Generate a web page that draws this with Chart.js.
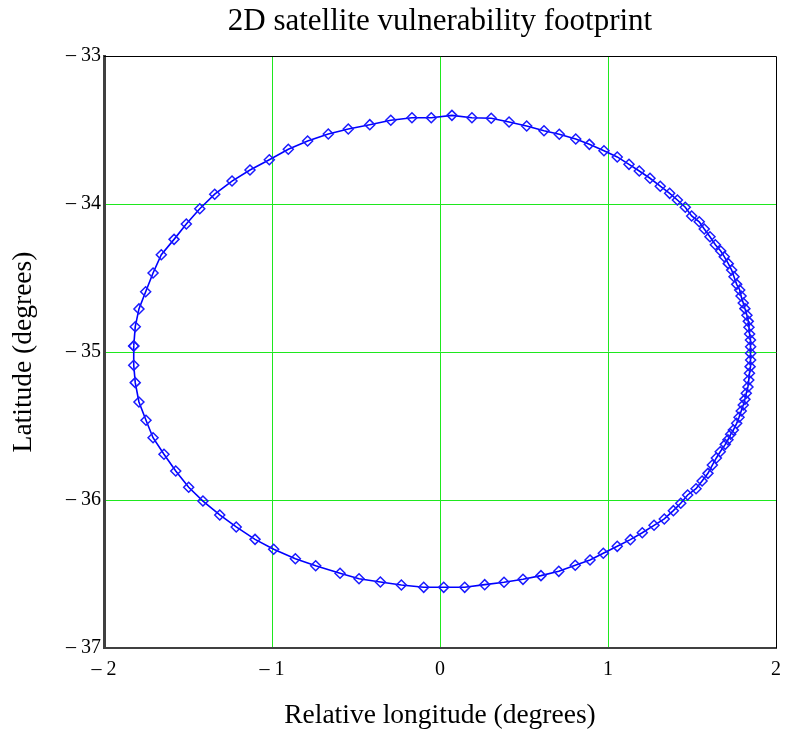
<!DOCTYPE html>
<html lang="en">
<head>
<meta charset="utf-8">
<title>2D satellite vulnerability footprint</title>
<script src="https://cdn.jsdelivr.net/npm/chart.js@4.4.1/dist/chart.umd.min.js"></script>
<style>
  html, body { margin: 0; padding: 0; background: #fff; }
  #wrap { width: 785px; height: 732px; }
</style>
</head>
<body>
<div id="wrap"><canvas id="foot"></canvas></div>
<script>
// footprint contour (clockwise from the left edge)
var lonDeg = [
  -1.823, -1.814, -1.792, -1.752, -1.708, -1.659, -1.583, -1.510, -1.430, -1.341,
  -1.238, -1.131, -1.016, -0.903, -0.788, -0.665, -0.546, -0.418, -0.293, -0.167,
  -0.052, 0.071, 0.190, 0.305, 0.411, 0.516, 0.619, 0.710, 0.808, 0.889,
  0.976, 1.055, 1.125, 1.186, 1.250, 1.311, 1.367, 1.413, 1.460, 1.498,
  1.543, 1.573, 1.607, 1.639, 1.671, 1.692, 1.716, 1.736, 1.750, 1.766,
  1.784, 1.792, 1.805, 1.815, 1.827, 1.835, 1.839, 1.843, 1.848, 1.849,
  1.849, 1.849, 1.846, 1.842, 1.838, 1.833, 1.823, 1.815, 1.805, 1.793,
  1.780, 1.766, 1.746, 1.730, 1.714, 1.698, 1.668, 1.645, 1.621, 1.595,
  1.560, 1.524, 1.474, 1.433, 1.389, 1.335, 1.274, 1.204, 1.133, 1.055,
  0.972, 0.893, 0.805, 0.707, 0.601, 0.494, 0.381, 0.266, 0.147, 0.022,
  -0.097, -0.230, -0.355, -0.482, -0.595, -0.740, -0.861, -0.990, -1.101, -1.213,
  -1.311, -1.411, -1.496, -1.573, -1.643, -1.708, -1.750, -1.792, -1.814, -1.823,
  -1.823
];
var latDeg = [
  -34.959, -34.829, -34.709, -34.593, -34.466, -34.343, -34.239, -34.135, -34.032, -33.934,
  -33.845, -33.770, -33.701, -33.630, -33.574, -33.527, -33.493, -33.464, -33.434, -33.417,
  -33.417, -33.401, -33.417, -33.421, -33.446, -33.473, -33.505, -33.529, -33.561, -33.597,
  -33.640, -33.682, -33.732, -33.777, -33.826, -33.880, -33.928, -33.973, -34.022, -34.081,
  -34.120, -34.169, -34.221, -34.275, -34.318, -34.356, -34.403, -34.446, -34.491, -34.543,
  -34.581, -34.622, -34.669, -34.707, -34.752, -34.793, -34.833, -34.878, -34.919, -34.964,
  -35.009, -35.054, -35.099, -35.144, -35.189, -35.236, -35.279, -35.320, -35.358, -35.399,
  -35.441, -35.482, -35.527, -35.556, -35.593, -35.624, -35.674, -35.716, -35.764, -35.820,
  -35.872, -35.924, -35.966, -36.022, -36.072, -36.128, -36.171, -36.221, -36.268, -36.313,
  -36.360, -36.405, -36.441, -36.482, -36.511, -36.536, -36.556, -36.572, -36.590, -36.590,
  -36.590, -36.574, -36.554, -36.532, -36.495, -36.444, -36.397, -36.333, -36.266, -36.182,
  -36.101, -36.007, -35.914, -35.804, -35.691, -35.579, -35.461, -35.338, -35.207, -35.090,
  -34.959
];
var xTicks = [-2, -1, 0, 1, 2];
var yTicks = [-37, -36, -35, -34, -33];

var pts = [];
for (var i = 0; i < lonDeg.length; i++) {
  pts.push({x: lonDeg[i], y: latDeg[i]});
}

var serif = "'Liberation Serif', 'Times New Roman', serif";
var green = '#1ee81e';

function fmt(v) {
  return v < 0 ? '\u2013 ' + Math.abs(v) : String(v);
}
function gridCol(ctx) {
  // no green line on the frame itself
  if (ctx.index === 0 || ctx.index === 4) return 'rgba(0,0,0,0)';
  return green;
}

// thin black frame on top and right edges
var frame = {
  id: 'frame',
  beforeDatasetsDraw: function(chart) {
    var a = chart.chartArea, c = chart.ctx;
    c.save();
    c.strokeStyle = '#000';
    c.lineWidth = 1;
    c.beginPath();
    c.moveTo(a.left, a.top + 0.5);
    c.lineTo(a.right + 0.5, a.top + 0.5);
    c.lineTo(a.right + 0.5, a.bottom);
    c.stroke();
    c.restore();
  }
};

new Chart(document.getElementById('foot'), {
  type: 'scatter',
  data: {
    datasets: [{
      label: 'footprint',
      data: pts,
      showLine: true,
      borderColor: '#0000ff',
      borderWidth: 1.6,
      pointStyle: 'rectRot',
      pointRadius: 5,
      pointBorderWidth: 1.5,
      pointBorderColor: '#1a1aff',
      pointBackgroundColor: 'rgba(0,0,0,0)',
      tension: 0
    }]
  },
  options: {
    responsive: true,
    maintainAspectRatio: false,
    animation: false,
    layout: { padding: { left: 0, right: 9, top: 0, bottom: 0 } },
    plugins: {
      legend: { display: false },
      tooltip: { enabled: false },
      title: {
        display: true,
        text: '2D satellite vulnerability footprint',
        fullSize: false,
        color: '#000',
        font: { family: serif, size: 31, weight: 'normal' },
        padding: { top: 3, bottom: 15.8 }
      }
    },
    scales: {
      x: {
        type: 'linear',
        min: -2, max: 2,
        afterBuildTicks: function(s) { s.ticks = xTicks.map(function(v) { return {value: v}; }); },
        afterFit: function(s) { s.height = 84; s.paddingLeft = 0; s.paddingRight = 0; },
        ticks: {
          color: '#000',
          padding: 10,
          maxRotation: 0,
          font: { family: serif, size: 20 },
          callback: fmt
        },
        grid: { color: gridCol, lineWidth: 1, drawTicks: false },
        border: { color: '#404040', width: 2 },
        title: {
          display: true,
          text: 'Relative longitude (degrees)',
          color: '#000',
          font: { family: serif, size: 27.5 },
          padding: { top: 0, bottom: 0 }
        }
      },
      y: {
        type: 'linear',
        min: -37, max: -33,
        afterBuildTicks: function(s) { s.ticks = yTicks.map(function(v) { return {value: v}; }); },
        afterFit: function(s) { s.width = 104; s.paddingTop = 0; s.paddingBottom = 0; },
        ticks: {
          color: '#000',
          padding: 3,
          font: { family: serif, size: 20 },
          callback: fmt
        },
        grid: { color: gridCol, lineWidth: 1, drawTicks: false },
        border: { color: '#404040', width: 3 },
        title: {
          display: true,
          text: 'Latitude (degrees)',
          color: '#000',
          font: { family: serif, size: 27.5 },
          padding: { top: 7, bottom: 0 }
        }
      }
    }
  },
  plugins: [frame]
});
</script>
</body>
</html>
